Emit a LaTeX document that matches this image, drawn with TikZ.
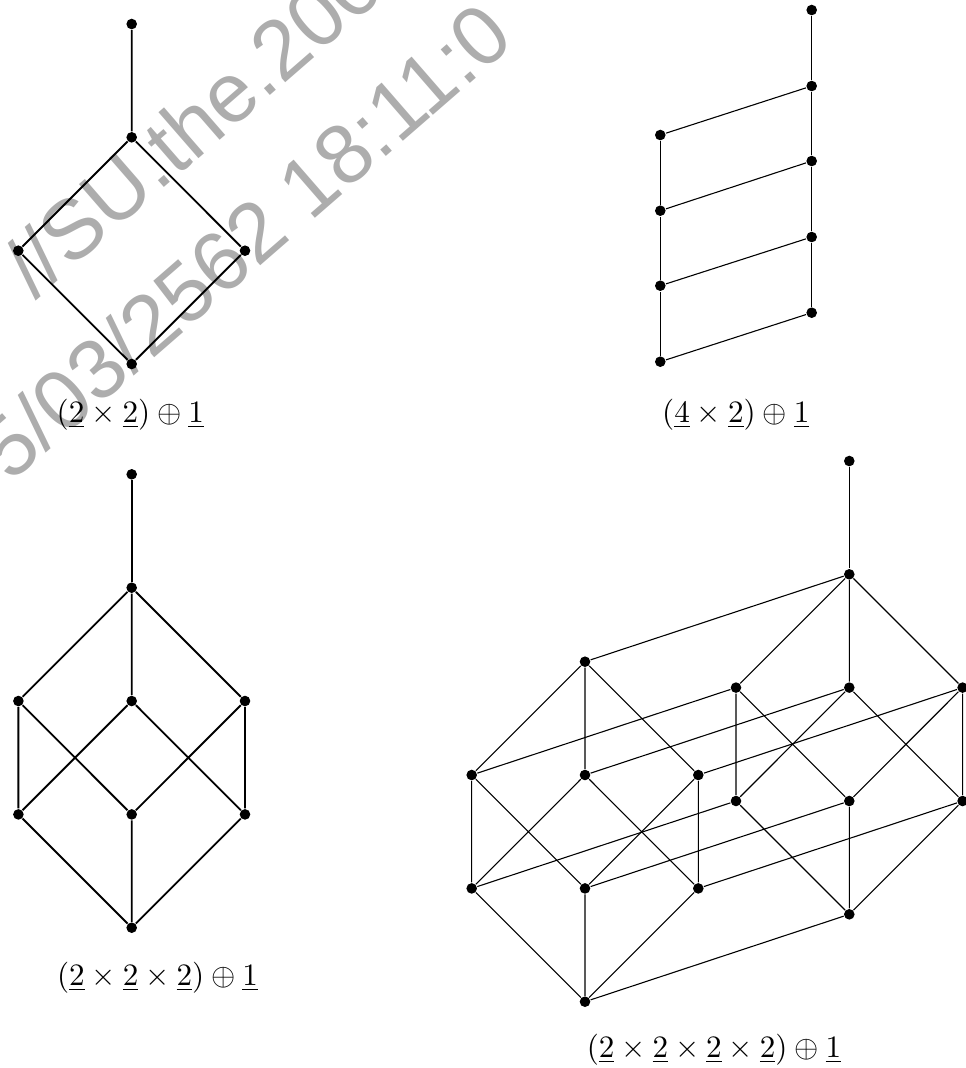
\documentclass[tikz,border=0pt]{standalone}
\usepackage{amsmath, amssymb}
\usepackage{fontspec}
\newfontfamily\wmfont{Liberation Sans}
\usepackage{tikz}

\tikzset{
  dot/.style={circle, fill, inner sep=0pt, minimum size=3.4pt},
  thickline/.style={line width=0.6pt},
  thinline/.style={line width=0.35pt},
  wmtext/.style={text=black!32, inner sep=0pt, rotate=41,
    font=\wmfont\fontsize{27}{30}\selectfont},
  caption/.style={anchor=base, inner sep=0pt}
}

\begin{document}
\begin{tikzpicture}[x=0.321pt, y=-0.321pt]
  \useasboundingbox (0,0) rectangle (966,1068);
  % stamp
  \begin{scope}
    \clip (0,0) rectangle (966,1068);
    \node[wmtext] (wmone) at (192,124) {//SU.the.200};
    \node[wmtext] (wmtwo) at (244,240) {5/03/2562 18:11:0};
  \end{scope}

  % (2x2)+1
  \node[dot] (A0) at (131.7,364) {};
  \node[dot] (A1) at (18.3,250.7) {};
  \node[dot] (A2) at (245,250.7) {};
  \node[dot] (A12) at (131.7,137.3) {};
  \node[dot] (Atop) at (131.7,24) {};
  \draw[thickline] (A0)--(A1)--(A12)--(A2)--(A0) (A12)--(Atop);
  \node[caption] (labA) at (130.3,422) {$(\underline{2}\times\underline{2})\oplus\underline{1}$};

  % (4x2)+1
  \foreach \i/\ya/\yb in {1/361.7/312.7, 2/285.7/237, 3/210.7/161, 4/135/86} {
    \node[dot] (Ba\i) at (660.3,\ya) {};
    \node[dot] (Bb\i) at (811.7,\yb) {};
    \draw[thinline] (Ba\i)--(Bb\i);
  }
  \node[dot] (Btop) at (811.7,10) {};
  \draw[thinline] (Ba1)--(Ba2)--(Ba3)--(Ba4) (Bb1)--(Bb2)--(Bb3)--(Bb4)--(Btop);
  \node[caption] (labB) at (735.8,422) {$(\underline{4}\times\underline{2})\oplus\underline{1}$};

  % cubes
  \foreach \p/\ox/\oy/\lw in {C/131.7/927.7/0.6pt, L/585/1001.7/0.35pt, R/849.3/914.3/0.35pt} {
    \begin{scope}[shift={(\ox,\oy)}]
      \node[dot] (\p0) at (0,0) {};
      \node[dot] (\p1) at (-113.3,-113.3) {};
      \node[dot] (\p2) at (0,-113.3) {};
      \node[dot] (\p3) at (113.3,-113.3) {};
      \node[dot] (\p12) at (-113.3,-226.7) {};
      \node[dot] (\p13) at (0,-226.7) {};
      \node[dot] (\p23) at (113.3,-226.7) {};
      \node[dot] (\p123) at (0,-340) {};
    \end{scope}
    \draw[line width=\lw] (\p1)--(\p0)--(\p2) (\p0)--(\p3)
      (\p1)--(\p12)--(\p2)--(\p23)--(\p3)--(\p13)--(\p1)
      (\p12)--(\p123)--(\p13) (\p23)--(\p123);
  }

  % (2x2x2)+1
  \node[dot] (Ctop) at (131.7,474.3) {};
  \draw[thickline] (C123)--(Ctop);
  \node[caption] (labC) at (157.5,985) {$(\underline{2}\times\underline{2}\times\underline{2})\oplus\underline{1}$};

  % (2x2x2x2)+1
  \foreach \v in {0,1,2,3,12,13,23,123}
    \draw[thinline] (L\v)--(R\v);
  \node[dot] (Dtop) at (849.3,461) {};
  \draw[thinline] (R123)--(Dtop);
  \node[caption] (labD) at (714,1057) {$(\underline{2}\times\underline{2}\times\underline{2}\times\underline{2})\oplus\underline{1}$};
\end{tikzpicture}
\end{document}
